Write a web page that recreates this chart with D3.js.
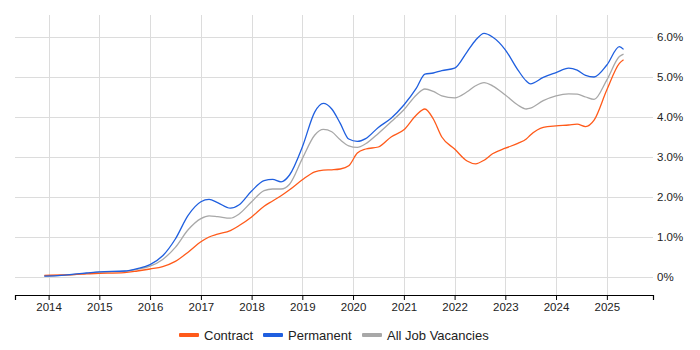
<!DOCTYPE html>
<html>
<head>
<meta charset="utf-8">
<script src="https://cdn.jsdelivr.net/npm/d3@7"></script>
<style>
  body { margin: 0; background: #fff; }
  svg { display: block; font-family: "Liberation Sans", Arial, sans-serif; }
</style>
</head>
<body>
<svg></svg>
<script>
// months (YYYY-MM) and share of vacancies in %
let months = ["2013-12","2014-04","2014-07","2014-10","2015-01","2015-07","2015-10","2016-01","2016-04","2016-07",
  "2016-10","2017-01","2017-03","2017-05","2017-08","2017-10","2018-01","2018-04","2018-06","2018-08",
  "2018-10","2019-01","2019-04","2019-06","2019-08","2019-10","2019-12","2020-02","2020-04","2020-07",
  "2020-10","2021-01","2021-04","2021-06","2021-08","2021-10","2022-01","2022-04","2022-06","2022-08",
  "2022-10","2023-01","2023-04","2023-06","2023-07","2023-10","2024-01","2024-04","2024-06","2024-08",
  "2024-10","2025-01","2025-04","2025-05"];

let contract = [0.04,0.05,0.06,0.08,0.09,0.11,0.15,0.2,0.26,0.39,
  0.62,0.88,1.0,1.07,1.16,1.28,1.5,1.77,1.9,2.03,
  2.18,2.43,2.63,2.67,2.68,2.7,2.78,3.1,3.2,3.25,
  3.5,3.68,4.05,4.2,3.95,3.5,3.2,2.9,2.83,2.92,
  3.08,3.22,3.34,3.45,3.55,3.74,3.78,3.8,3.82,3.76,
  3.92,4.68,5.34,5.43];

let permanent = [0.02,0.04,0.07,0.1,0.13,0.15,0.21,0.31,0.53,0.95,
  1.54,1.88,1.94,1.86,1.72,1.8,2.15,2.41,2.44,2.38,
  2.55,3.25,4.13,4.34,4.2,3.84,3.45,3.39,3.46,3.74,
  3.97,4.3,4.72,5.07,5.1,5.16,5.22,5.63,5.92,6.09,
  6.0,5.68,5.18,4.9,4.83,4.99,5.11,5.22,5.17,5.04,
  5.0,5.3,5.76,5.69];

let allJobs = [0.02,0.04,0.06,0.09,0.12,0.14,0.19,0.27,0.44,0.74,
  1.18,1.46,1.53,1.51,1.47,1.57,1.88,2.16,2.2,2.2,
  2.32,2.96,3.55,3.69,3.63,3.43,3.28,3.24,3.33,3.59,
  3.88,4.18,4.55,4.7,4.64,4.53,4.48,4.63,4.78,4.86,
  4.78,4.55,4.3,4.2,4.22,4.41,4.53,4.58,4.57,4.5,
  4.44,4.93,5.51,5.57];

let yTicks = [0, 1, 2, 3, 4, 5, 6];

let seriesNames = ["Contract", "Permanent", "All Job Vacancies"];
let seriesColors = ["#ff5a1a", "#1f5fdf", "#a8a8a8"];
let seriesData = [contract, permanent, allJobs];

let width = 700;
let height = 350;
let plotLeft = 15, plotRight = 653, plotTop = 15, plotBottom = 295;

let parseMonth = d3.timeParse("%Y-%m");
let dates = months.map((m) => parseMonth(m));

let svg = d3.select("svg").attr("width", width).attr("height", height);

let xScale = d3.scaleTime()
    .domain([new Date(2013, 4, 4), new Date(2025, 10, 29)])
    .range([plotLeft, plotRight]);

let yScale = d3.scaleLinear()
    .domain([-0.45, 6.55])
    .range([plotBottom, plotTop]);

// grid
svg.append("g")
    .selectAll("line")
    .data(yTicks)
    .enter()
    .append("line")
    .attr("x1", plotLeft)
    .attr("x2", plotRight)
    .attr("y1", (d) => Math.round(yScale(d)) + 0.5)
    .attr("y2", (d) => Math.round(yScale(d)) + 0.5)
    .attr("stroke", "#dcdcdc");

let yearTicks = xScale.ticks(d3.timeYear.every(1));

svg.append("g")
    .selectAll("line")
    .data(yearTicks)
    .enter()
    .append("line")
    .attr("x1", (d) => Math.round(xScale(d)) + 0.5)
    .attr("x2", (d) => Math.round(xScale(d)) + 0.5)
    .attr("y1", plotTop)
    .attr("y2", plotBottom)
    .attr("stroke", "#dcdcdc");

// x axis
let xAxis = d3.axisBottom(xScale)
    .tickValues(yearTicks)
    .tickFormat(d3.timeFormat("%Y"))
    .tickSize(5)
    .tickPadding(3);

let gx = svg.append("g")
    .attr("transform", "translate(0," + plotBottom + ")")
    .call(xAxis);
gx.select(".domain").attr("stroke", "#000").attr("stroke-width", 1.2);
gx.selectAll(".tick line").attr("stroke", "#000");
gx.selectAll("text").attr("fill", "#222").style("font-size", "11.5px").style("font-family", "Liberation Sans, Arial, sans-serif");

// y axis labels on the right
let yAxis = d3.axisRight(yScale)
    .tickValues(yTicks)
    .tickFormat((d) => d === 0 ? "0%" : d.toFixed(1) + "%")
    .tickSize(0)
    .tickPadding(4);

let gy = svg.append("g")
    .attr("transform", "translate(" + plotRight + ",0)")
    .call(yAxis);
gy.select(".domain").remove();
gy.selectAll("text").attr("fill", "#222").style("font-size", "11.5px").style("font-family", "Liberation Sans, Arial, sans-serif");

// lines: all jobs first, then contract, permanent on top
let line = d3.line()
    .x((d) => xScale(d[0]))
    .y((d) => yScale(d[1]))
    .curve(d3.curveMonotoneX);

[2, 0, 1].forEach((idx) => {
    let vals = seriesData[idx];
    svg.append("path")
        .datum(dates.map((d, i) => [d, vals[i]]))
        .attr("fill", "none")
        .attr("stroke", seriesColors[idx])
        .attr("stroke-width", 1.3)
        .attr("d", line);
});

// legend
let legendX = [179, 263, 362];
let legend = svg.append("g");
seriesNames.forEach((name, i) => {
    legend.append("rect")
        .attr("x", legendX[i])
        .attr("y", 333)
        .attr("width", 20)
        .attr("height", 4)
        .attr("rx", 1)
        .attr("fill", seriesColors[i]);
    legend.append("text")
        .attr("x", legendX[i] + 25)
        .attr("y", 340)
        .attr("fill", "#222")
        .style("font-size", "13px")
        .text(name);
});
</script>
</body>
</html>
